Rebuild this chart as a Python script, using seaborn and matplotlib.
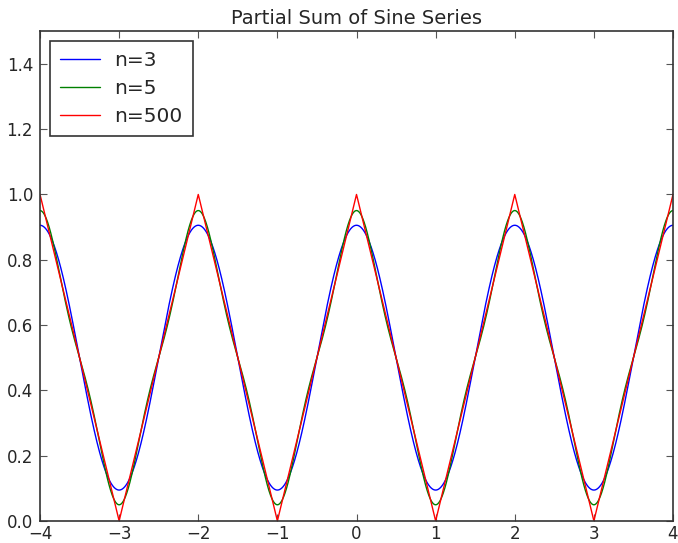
import numpy as np
import pandas as pd
import matplotlib
matplotlib.use('Agg')
import matplotlib.pyplot as plt
import seaborn as sns

# number of terms for each curve and plotting range
n_values = [3, 5, 500]
labels = ['n=3', 'n=5', 'n=500']
colors = ['#0000ff', '#008000', '#ff0000']
x_range = (-4, 4)
x_ticks = [-4, -3, -2, -1, 0, 1, 2, 3, 4]
y_ticks = [0.0, 0.2, 0.4, 0.6, 0.8, 1.0, 1.2, 1.4]

x = np.linspace(x_range[0], x_range[1], 2001)


def partial_sum(x, n):
    # triangle wave partial sum (odd harmonics below n)
    s = np.full_like(x, 0.5)
    for k in range(1, n, 2):
        s += 4 / (np.pi ** 2 * k ** 2) * np.cos(k * np.pi * x)
    return s


frames = []
for n, lab in zip(n_values, labels):
    frames.append(pd.DataFrame({'x': x, 'y': partial_sum(x, n), 'curve': lab}))
data = pd.concat(frames)

sns.set_style('ticks')
plt.rcParams['font.family'] = ['DejaVu Sans']

fig = plt.figure(figsize=(6.78, 5.43), dpi=100)
ax = fig.add_axes([40 / 678, 22 / 543, 633 / 678, 490 / 543])

sns.lineplot(data=data, x='x', y='y', hue='curve', palette=colors,
             linewidth=1.0, ax=ax, legend=True)

ax.set_xlim(*x_range)
ax.set_ylim(0, 1.5)
ax.set_xticks(x_ticks)
ax.set_yticks(y_ticks)
ax.set_xticklabels(['\u2212' + str(abs(t)) if t < 0 else str(t) for t in x_ticks])
ax.set_yticklabels([f'{t:.1f}' for t in y_ticks])
ax.tick_params(axis='both', which='both', direction='in', length=5, width=0.8,
               top=True, right=True, labelsize=12, color='#555555')
ax.tick_params(axis='x', pad=3)
ax.tick_params(axis='y', pad=5)
ax.set_xlabel('')
ax.set_ylabel('')
for sp in ax.spines.values():
    sp.set_color('#333333')
    sp.set_linewidth(1.2)
    sp.set_visible(True)

ax.set_title('Partial Sum of Sine Series', fontsize=14, pad=5)
leg = ax.legend(loc='upper left', fontsize=14.5, fancybox=False, framealpha=1,
                edgecolor='#333333', handlelength=2.0, borderpad=0.5,
                handletextpad=0.7, labelspacing=0.45)
leg.get_frame().set_linewidth(1.2)

fig.savefig('out.png', dpi=100)
